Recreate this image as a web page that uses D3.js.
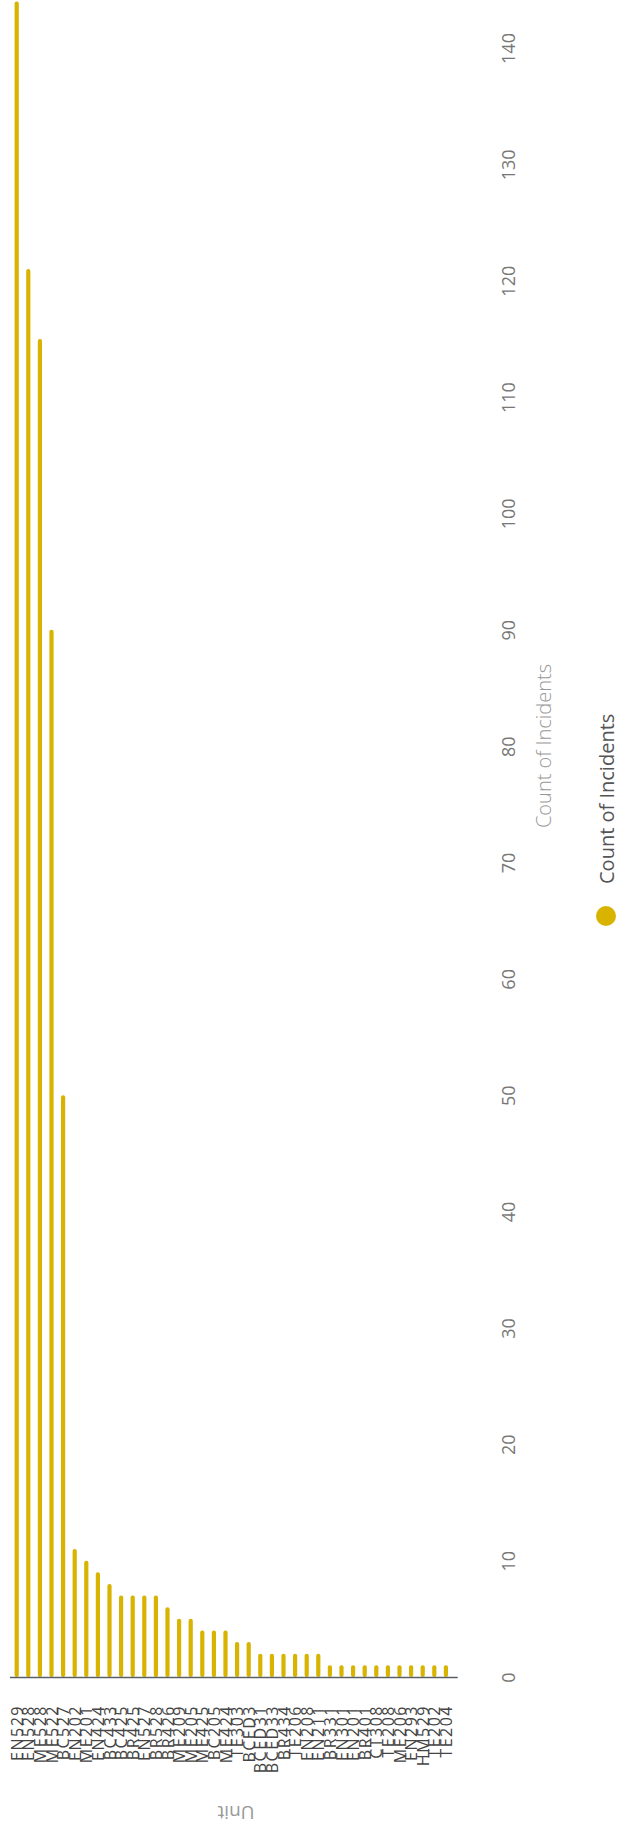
<!DOCTYPE html>
<html>
<head>
<meta charset="utf-8">
<script src="https://cdn.jsdelivr.net/npm/d3@7"></script>
<style>
  html, body { margin: 0; padding: 0; background: #fff; }
  svg { display: block; }
  text { font-family: "Open Sans", "Noto Sans", sans-serif; }
</style>
</head>
<body>
<svg id="chart" width="619" height="1830"></svg>
<script>
const categories = ["EN529","EN528","ME528","ME522","BC527","EN202","ME201","EN424","BC433","BC425",
  "BR425","EN527","BR528","BR426","ME209","ME205","ME425","BC205","ME424","TE303",
  "BCED3","BCED31","BCED33","BR434","TE206","EN208","EN211","BR331","EN301","EN201",
  "BR401","CT308","TE208","ME206","EN293","HM529","TE202","TE204"];
const values = [144,121,115,90,50,11,10,9,8,7,
  7,7,7,6,5,5,4,4,4,3,
  3,2,2,2,2,2,2,1,1,1,
  1,1,1,1,1,1,1,1];
const tickValues = [0,10,20,30,40,50,60,70,80,90,100,110,120,130,140];
const seriesName = "Count of Incidents";
const axisTitle = "Count of Incidents";
const categoryTitle = "Unit";

const barColor = "#D8B300";
const svg = d3.select("#chart");

const baseY = 1677;
const x = d3.scaleBand().domain(categories).range([10.9, 451.7]);
const y = d3.scaleLinear().domain([0, 140]).range([baseY, 48]);

// bars
const barW = 4.2;
svg.append("g").selectAll("rect")
  .data(categories.map((c, i) => ({c, v: values[i]})))
  .join("rect")
  .attr("x", d => x(d.c) + x.bandwidth() / 2 - barW / 2)
  .attr("width", barW)
  .attr("y", d => y(d.v))
  .attr("height", d => baseY - y(d.v))
  .attr("rx", 2)
  .attr("fill", barColor);

// baseline
svg.append("line")
  .attr("x1", x.range()[0] - 1).attr("x2", x.range()[1] + 6)
  .attr("y1", baseY + 0.5).attr("y2", baseY + 0.5)
  .attr("stroke", "#5a5f66").attr("stroke-width", 1.5);

// value axis (rotated labels)
const vAxis = svg.append("g")
  .attr("transform", "translate(508,0)")
  .call(d3.axisRight(y).tickValues(tickValues).tickSize(0).tickPadding(0));
vAxis.select(".domain").remove();
vAxis.selectAll("text")
  .attr("x", 0).attr("dy", null)
  .attr("transform", "rotate(-90)")
  .attr("text-anchor", "middle")
  .attr("dominant-baseline", "central")
  .attr("fill", "#777")
  .style("font-size", "18px");

// category axis
const cAxis = svg.append("g")
  .attr("transform", "translate(0,1705)")
  .call(d3.axisBottom(x).tickSize(0).tickPadding(0));
cAxis.select(".domain").remove();
cAxis.selectAll("text")
  .attr("x", 0).attr("y", 0).attr("dy", null)
  .attr("transform", "rotate(-90)")
  .attr("text-anchor", "end")
  .attr("dominant-baseline", "central")
  .attr("fill", "#444")
  .style("font-size", "16px")
  .style("letter-spacing", "1.5px");

// category title
svg.append("text")
  .attr("transform", "translate(236,1813) rotate(180)")
  .attr("text-anchor", "middle")
  .attr("dominant-baseline", "central")
  .attr("fill", "#999")
  .style("font-size", "19px")
  .text(categoryTitle);

// value axis title
svg.append("text")
  .attr("transform", "translate(543,746) rotate(-90)")
  .attr("text-anchor", "middle")
  .attr("dominant-baseline", "central")
  .attr("fill", "#999")
  .style("font-size", "20px")
  .style("font-weight", 300)
  .text(axisTitle);

// legend
svg.append("circle")
  .attr("cx", 606).attr("cy", 916).attr("r", 10)
  .attr("fill", barColor);
svg.append("text")
  .attr("transform", "translate(606,884) rotate(-90)")
  .attr("text-anchor", "start")
  .attr("dominant-baseline", "central")
  .attr("fill", "#555")
  .style("font-size", "20px")
  .text(seriesName);
</script>
</body>
</html>
